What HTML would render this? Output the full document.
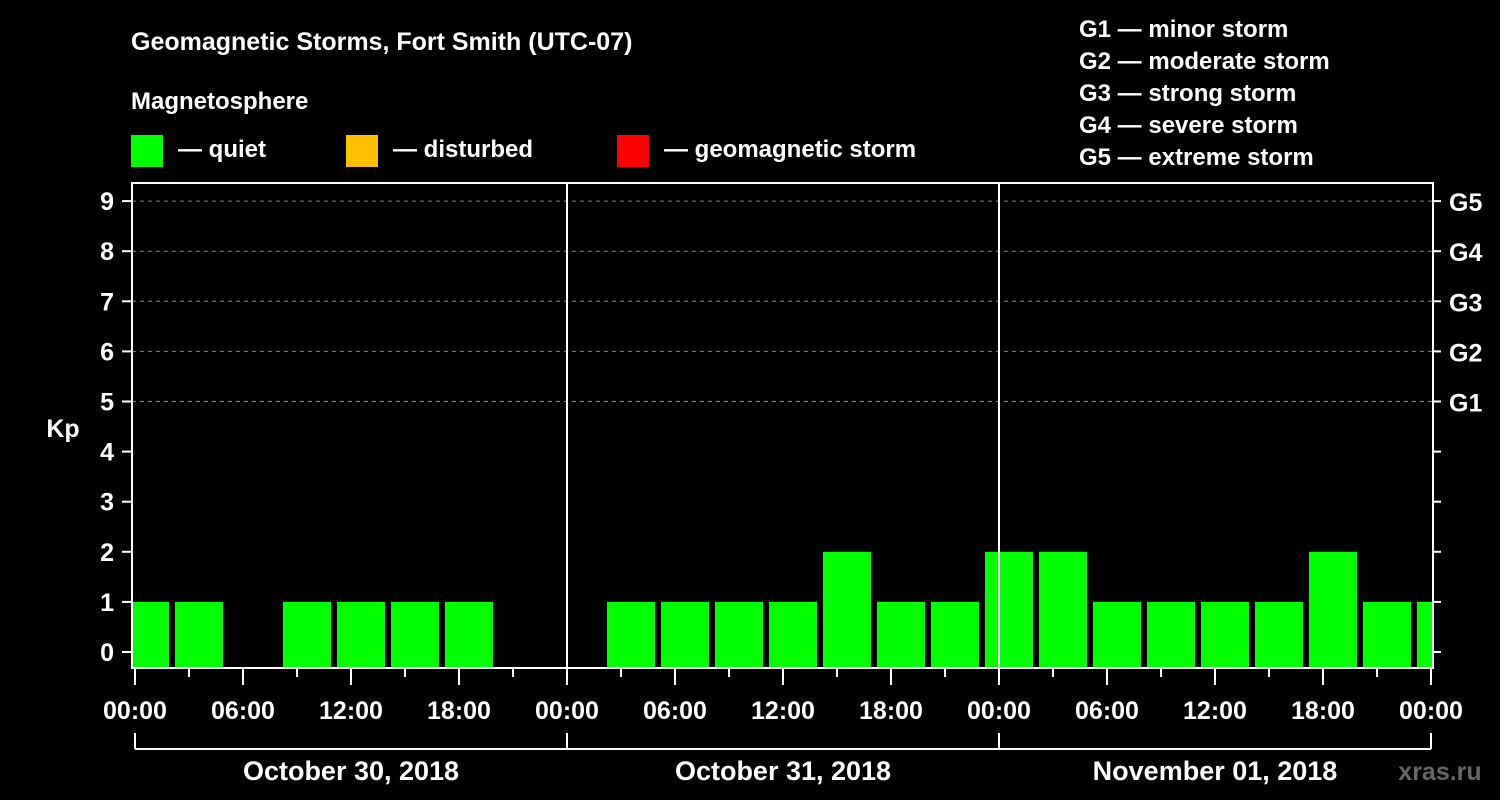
<!DOCTYPE html>
<html><head><meta charset="utf-8"><style>
body{margin:0;background:#000;width:1500px;height:800px;overflow:hidden}
svg{display:block;font-family:"Liberation Sans",Arial,sans-serif;font-weight:bold}
</style></head><body>
<svg id="c" width="1500" height="800">
<text x="131" y="50" fill="#fff" font-size="25">Geomagnetic Storms, Fort Smith (UTC-07)</text>
<text x="131" y="109" fill="#fff" font-size="24">Magnetosphere</text>
<g><rect x="131" y="135" width="32" height="32" fill="#00ff00"/><text x="178" y="157" fill="#fff" font-size="24">— quiet</text></g>
<g><rect x="346" y="135" width="32" height="32" fill="#ffc000"/><text x="393" y="157" fill="#fff" font-size="24">— disturbed</text></g>
<g><rect x="617" y="135" width="32" height="32" fill="#ff0000"/><text x="664" y="157" fill="#fff" font-size="24">— geomagnetic storm</text></g>
<g fill="#fff" font-size="24">
<text x="1079" y="37">G1 — minor storm</text><text x="1079" y="69">G2 — moderate storm</text><text x="1079" y="101">G3 — strong storm</text><text x="1079" y="133">G4 — severe storm</text><text x="1079" y="165">G5 — extreme storm</text></g>
<text x="63" y="437" fill="#fff" font-size="25" text-anchor="middle">Kp</text>
<text x="1473" y="24" fill="#555" font-size="24" text-anchor="middle" x="1440"></text>
<text x="1440" y="780" fill="#666" font-size="25" text-anchor="middle">xras.ru</text>
<defs><clipPath id="pc"><rect x="132" y="183" width="1300" height="485"/></clipPath></defs>
<g id="grid"></g><g id="bars" clip-path="url(#pc)"></g><g id="axes"></g>
</svg>
<script>
const kpValues=[1,1,null,1,1,1,1,null,null,1,1,1,1,2,1,1,2,2,1,1,1,1,2,1,1];
const binStartHours=-1; // first bin starts 23:00 previous day (local)
const yTicks=[0,1,2,3,4,5,6,7,8,9];
const gLabels={5:"G1",6:"G2",7:"G3",8:"G4",9:"G5"};
const xTickLabels=["00:00","06:00","12:00","18:00"];
const dayLabels=["October 30, 2018","October 31, 2018","November 01, 2018"];
const NS="http://www.w3.org/2000/svg";
const X0=135,PXH=18,L=132,R=1433,T=183,B=668;
const xs=h=>X0+h*PXH, ys=v=>652-v*50.1;
function mk(t,a,p,txt){const e=document.createElementNS(NS,t);for(const k in a)e.setAttribute(k,a[k]);if(txt!=null)e.textContent=txt;p.appendChild(e);return e;}
const grid=document.getElementById('grid'),bars=document.getElementById('bars'),axes=document.getElementById('axes');
yTicks.forEach(v=>{
 if(gLabels[v]){const g=mk('line',{x1:L,x2:R,y1:ys(v),y2:ys(v),stroke:'#888','stroke-dasharray':'4,4','stroke-width':1},grid);
 
 
 const gl=mk('text',{x:1449,y:ys(v)+10,fill:'#fff','font-size':25},axes,gLabels[v]);
 
 }
 mk('line',{x1:122,x2:L,y1:ys(v),y2:ys(v),stroke:'#fff','stroke-width':2},axes);
 mk('line',{x1:R,x2:1441,y1:ys(v),y2:ys(v),stroke:'#fff','stroke-width':2},axes);
 const t=mk('text',{x:114,y:ys(v)+9,fill:'#fff','font-size':25,'text-anchor':'end'},axes,v);
 
 
});
kpValues.forEach((v,i)=>{
 if(v==null)return;
 const h=binStartHours+3*i;
 const col=v>=5?'#ff0000':(v>=4?'#ffc000':'#00ff00');
 const r=mk('rect',{x:xs(h)+4,y:ys(v),width:48,height:B-ys(v),fill:col},bars);
 
 
});
mk('rect',{x:L,y:T,width:R-L,height:B-T,fill:'none',stroke:'#fff','stroke-width':2},axes);
for(let d=1;d<3;d++)mk('line',{x1:xs(24*d),x2:xs(24*d),y1:T,y2:B,stroke:'#fff','stroke-width':2},axes);
for(let h=0;h<=72;h+=3){const major=h%6==0;
 mk('line',{x1:xs(h),x2:xs(h),y1:B,y2:major?685:677,stroke:'#fff','stroke-width':2},axes);
 if(major){const lab=h%24==0?"00:00":xTickLabels[(h%24)/6];
 const t=mk('text',{x:xs(h),y:719,fill:'#fff','font-size':25,'text-anchor':'middle'},axes,lab);
 
 }}
mk('line',{x1:xs(0),x2:xs(72),y1:749,y2:749,stroke:'#fff','stroke-width':2},axes);
for(let d=0;d<=3;d++)mk('line',{x1:xs(24*d),x2:xs(24*d),y1:733,y2:749,stroke:'#fff','stroke-width':2},axes);
dayLabels.forEach((s,d)=>{const t=mk('text',{x:xs(24*d+12),y:780,fill:'#fff','font-size':27,'text-anchor':'middle'},axes,s);
 
 });
</script>
</body></html>
